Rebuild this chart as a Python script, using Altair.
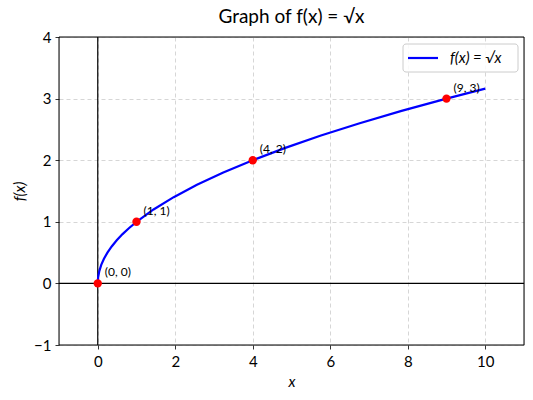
import altair as alt
import pandas as pd

# curve samples of f(x) = sqrt(x)
curve_x = [0, 0.01, 0.04, 0.09, 0.16, 0.25, 0.36, 0.49, 0.64, 0.81, 1.0, 1.44, 1.96, 2.56,
           3.24, 4.0, 4.84, 5.76, 6.76, 7.84, 9.0, 10.0]
curve_y = [0, 0.1, 0.2, 0.3, 0.4, 0.5, 0.6, 0.7, 0.8, 0.9, 1.0, 1.2, 1.4, 1.6,
           1.8, 2.0, 2.2, 2.4, 2.6, 2.8, 3.0, 3.162]
series_name = "f(x) = √x"

pt_x = [0, 1, 4, 9]
pt_y = [0, 1, 2, 3]
pt_label = ["(0, 0)", "(1, 1)", "(4, 2)", "(9, 3)"]

x_ticks = [0, 2, 4, 6, 8, 10]
y_ticks = [-1, 0, 1, 2, 3, 4]
x_domain = [-1, 11]
y_domain = [-1, 4]

FONT = "Lato"
W, H = 465, 308

curve_df = pd.DataFrame({"x": curve_x, "y": curve_y})
pts_df = pd.DataFrame({"x": pt_x, "y": pt_y, "label": pt_label})
zero_df = pd.DataFrame({"v": [0]})
legend_df = pd.DataFrame({"name": [series_name]})

xs = alt.Scale(domain=x_domain, nice=False, zero=False)
ys = alt.Scale(domain=y_domain, nice=False, zero=False)

common = dict(grid=True, gridDash=[4, 3], gridColor="#cccccc", gridWidth=0.8,
              domain=False, tickColor="black", tickSize=4, tickWidth=0.8,
              labelFontSize=15, titleFontSize=15, labelColor="black",
              titleColor="black", titleFontWeight="normal", titleFontStyle="italic",
              format="d", labelExpr="replace(datum.label, '-', '−')")
x_axis = alt.Axis(values=x_ticks, title="x", labelPadding=5, titlePadding=5, **common)
y_axis = alt.Axis(values=y_ticks, title="f(x)", labelPadding=4, titlePadding=6, **common)

base_grid = alt.Chart(curve_df).mark_point(opacity=0).encode(
    x=alt.X("x:Q", scale=xs, axis=x_axis),
    y=alt.Y("y:Q", scale=ys, axis=y_axis),
)

frame = alt.Chart(zero_df).mark_rect(fill=None, fillOpacity=0, stroke="black",
                                     strokeWidth=1).encode(
    x=alt.value(0), x2=alt.value(W), y=alt.value(0), y2=alt.value(H))

vline = alt.Chart(zero_df).mark_rule(color="black", strokeWidth=1.2).encode(
    x=alt.X("v:Q", scale=xs))
hline = alt.Chart(zero_df).mark_rule(color="black", strokeWidth=1.2).encode(
    y=alt.Y("v:Q", scale=ys))

line = alt.Chart(curve_df).mark_line(strokeWidth=2.2, color="#0000ff").encode(
    x=alt.X("x:Q", scale=xs),
    y=alt.Y("y:Q", scale=ys),
)

points = alt.Chart(pts_df).mark_circle(color="#ff0000", size=70, opacity=1).encode(
    x=alt.X("x:Q", scale=xs),
    y=alt.Y("y:Q", scale=ys),
)

labels = alt.Chart(pts_df).mark_text(align="left", baseline="middle", dx=7, dy=-11,
                                     fontSize=12, color="black", font=FONT).encode(
    x=alt.X("x:Q", scale=xs),
    y=alt.Y("y:Q", scale=ys),
    text="label:N",
)

# manual legend box
leg_box = alt.Chart(legend_df).mark_rect(fill="white", fillOpacity=0.85, stroke="#cccccc",
                                         strokeWidth=1, cornerRadius=3).encode(
    x=alt.value(344), x2=alt.value(459), y=alt.value(7), y2=alt.value(35))
leg_line = alt.Chart(legend_df).mark_rule(color="#0000ff", strokeWidth=2.2).encode(
    x=alt.value(349), x2=alt.value(379), y=alt.value(21))
leg_text = alt.Chart(legend_df).mark_text(align="left", baseline="middle", fontSize=15,
                                          fontStyle="italic", color="black", font=FONT).encode(
    x=alt.value(391), y=alt.value(21), text="name:N")

chart = alt.layer(base_grid, vline, hline, line, points, labels, frame,
                  leg_box, leg_line, leg_text).properties(
    width=W, height=H,
    title=alt.TitleParams("Graph of f(x) = √x", fontSize=19, font=FONT,
                          fontWeight="normal", color="black", offset=3),
    autosize=alt.AutoSizeParams(type="none"),
    padding={"left": 59, "top": 37, "right": 9, "bottom": 55},
).configure_view(stroke=None).configure(font=FONT)

chart.save("out.html", embed_options={"renderer": "svg", "actions": False})
